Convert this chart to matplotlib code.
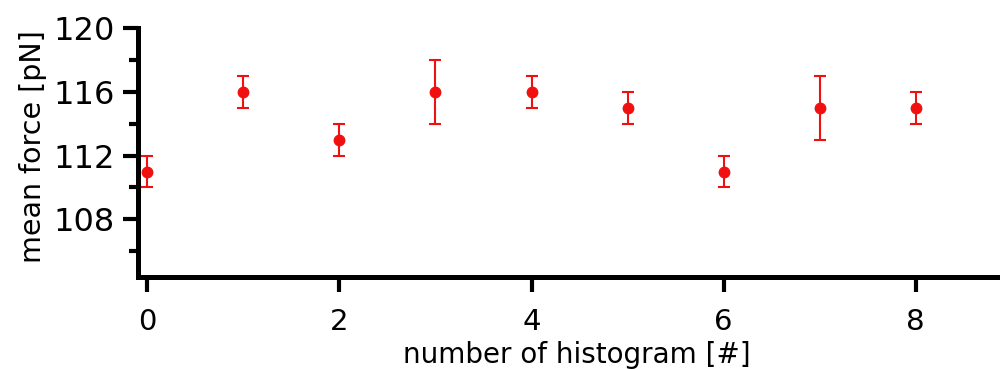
import matplotlib
matplotlib.use("Agg")
import matplotlib.pyplot as plt
from matplotlib.ticker import MultipleLocator

histogram = [0, 1, 2, 3, 4, 5, 6, 7, 8]
mean_force = [111, 116, 113, 116, 116, 115, 111, 115, 115]
force_err = [1, 1, 1, 2, 1, 1, 1, 2, 1]
y_ticks = [108, 112, 116, 120]
x_ticks = [0, 2, 4, 6, 8]

plt.rcParams['font.family'] = ['DejaVu Sans']

fig = plt.figure(figsize=(10, 3.69), dpi=100)
ax = fig.add_axes([0.1375, 0.2493, 0.8625, 0.6735])

ax.errorbar(histogram, mean_force, yerr=force_err, fmt='o', color='#f01010',
            markersize=7.5, capsize=4.3, elinewidth=1.5, capthick=1.5,
            clip_on=False)

ax.set_xlim(-0.104, 8.88)
ax.set_ylim(104.37, 120)
ax.set_xticks(x_ticks)
ax.set_yticks(y_ticks)
ax.yaxis.set_minor_locator(MultipleLocator(2))

for s in ['top', 'right']:
    ax.spines[s].set_visible(False)
for s in ['left', 'bottom']:
    ax.spines[s].set_linewidth(3.6)
    ax.spines[s].set_capstyle('projecting')

ax.tick_params(axis='both', which='major', length=10.5, width=3)
ax.tick_params(axis='y', which='minor', length=6.5, width=3)
ax.tick_params(axis='y', which='major', labelsize=23, pad=6)
ax.tick_params(axis='x', which='major', labelsize=21, pad=12)

ax.set_ylabel('mean force [pN]', fontsize=20.5)
ax.yaxis.set_label_coords(0.047, 0.604, transform=fig.transFigure)
ax.set_xlabel('number of histogram [#]', fontsize=20)
ax.xaxis.set_label_coords(0.577, 0.075, transform=fig.transFigure)

fig.savefig('out.png', dpi=100)
